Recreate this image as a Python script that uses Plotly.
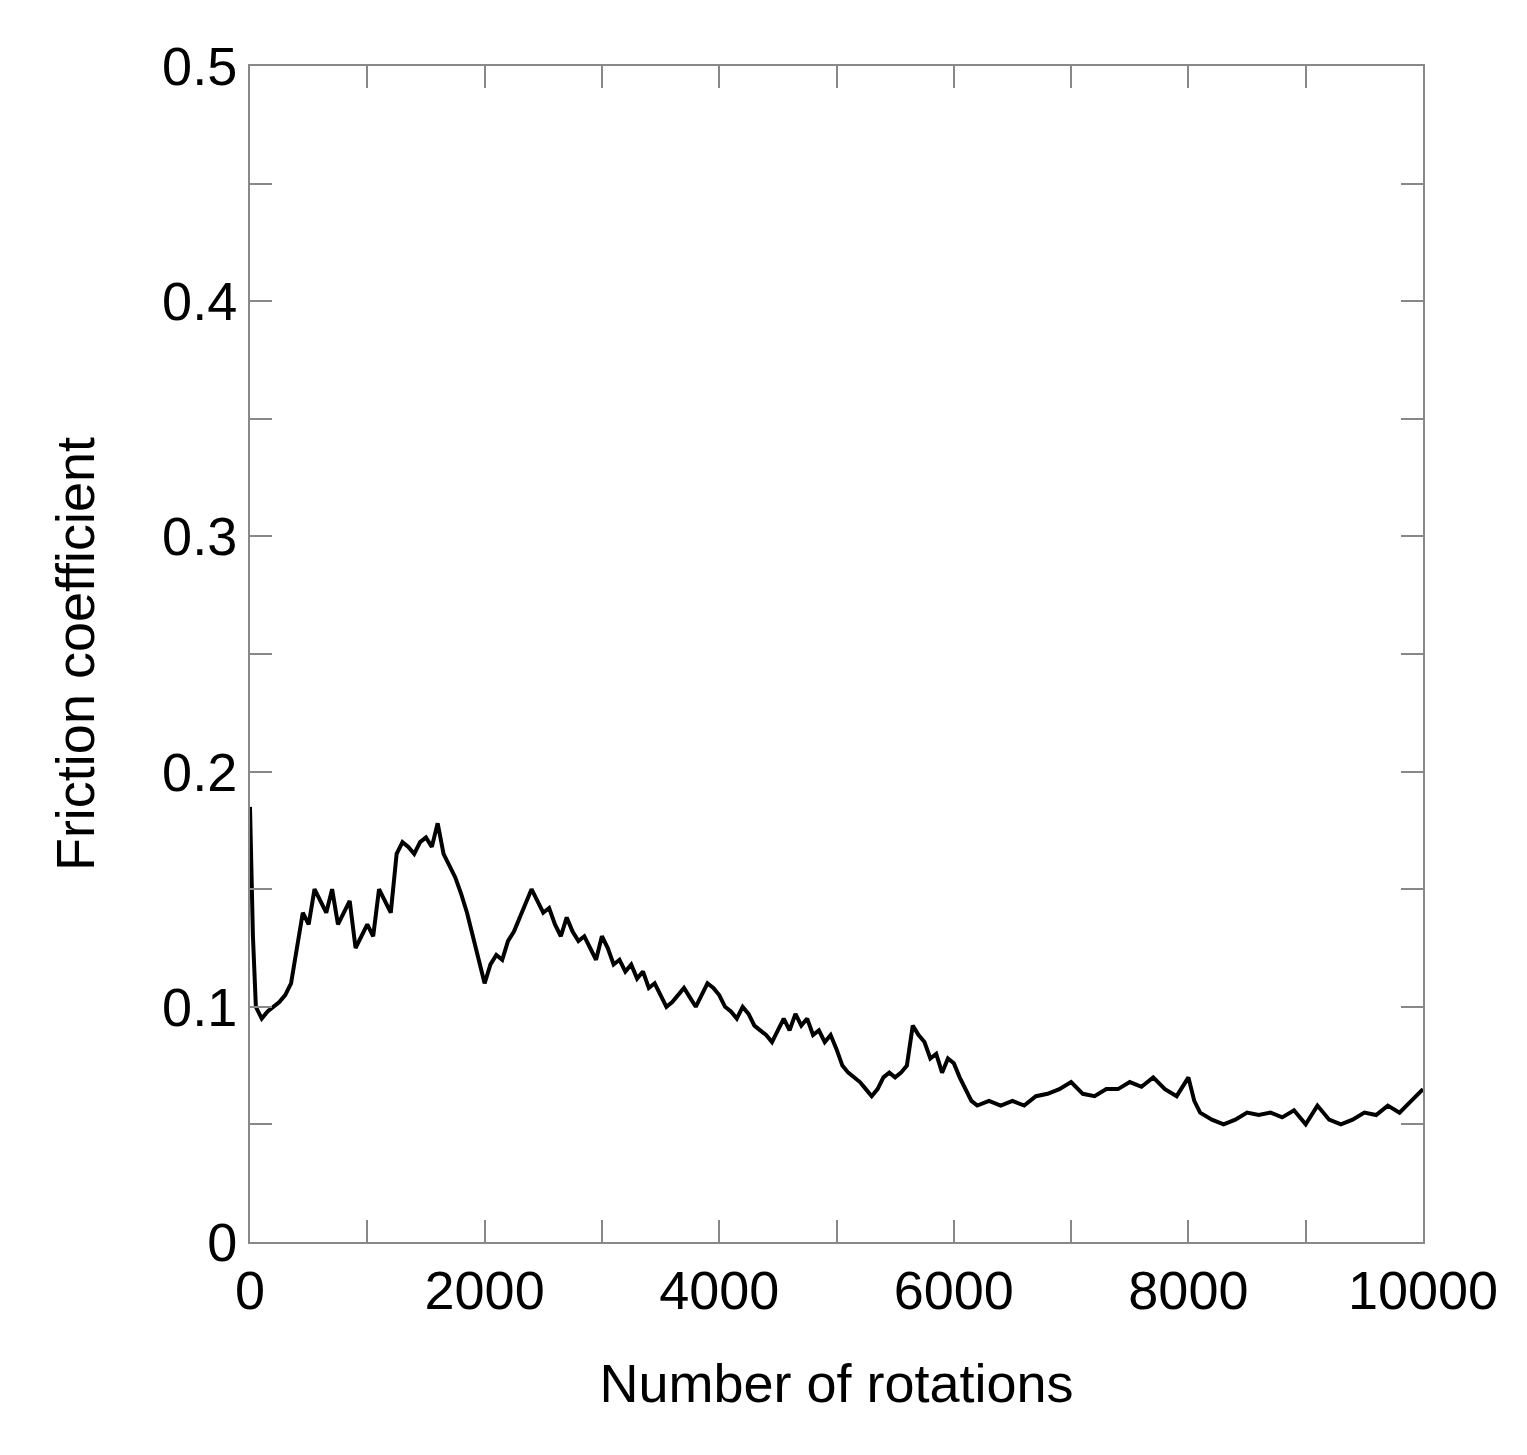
import plotly.graph_objects as go

# friction trace
rotations = [0, 25, 50, 100, 150, 200, 250, 300, 350, 400, 450, 500, 550, 600, 650, 700, 750, 800, 850, 900,
             950, 1000, 1050, 1100, 1150, 1200, 1250, 1300, 1350, 1400, 1450, 1500, 1550, 1600, 1650, 1700,
             1750, 1800, 1850, 1900, 1950, 2000, 2050, 2100, 2150, 2200, 2250, 2300, 2350, 2400, 2450, 2500,
             2550, 2600, 2650, 2700, 2750, 2800, 2850, 2900, 2950, 3000, 3050, 3100, 3150, 3200, 3250, 3300,
             3350, 3400, 3450, 3500, 3550, 3600, 3650, 3700, 3750, 3800, 3850, 3900, 3950, 4000, 4050, 4100,
             4150, 4200, 4250, 4300, 4350, 4400, 4450, 4500, 4550, 4600, 4650, 4700, 4750, 4800, 4850, 4900,
             4950, 5000, 5050, 5100, 5150, 5200, 5250, 5300, 5350, 5400, 5450, 5500, 5550, 5600, 5650, 5700,
             5750, 5800, 5850, 5900, 5950, 6000, 6050, 6100, 6150, 6200, 6300, 6400, 6500, 6600, 6700, 6800,
             6900, 7000, 7100, 7200, 7300, 7400, 7500, 7600, 7700, 7800, 7900, 8000, 8050, 8100, 8200, 8300,
             8400, 8500, 8600, 8700, 8800, 8900, 9000, 9100, 9200, 9300, 9400, 9500, 9600, 9700, 9800, 9900,
             10000]
friction = [0.185, 0.13, 0.10, 0.095, 0.098, 0.10, 0.102, 0.105, 0.11, 0.125, 0.14, 0.135, 0.15, 0.145, 0.14,
            0.15, 0.135, 0.14, 0.145, 0.125, 0.13, 0.135, 0.13, 0.15, 0.145, 0.14, 0.165, 0.17, 0.168, 0.165,
            0.17, 0.172, 0.168, 0.178, 0.165, 0.16, 0.155, 0.148, 0.14, 0.13, 0.12, 0.11, 0.118, 0.122, 0.12,
            0.128, 0.132, 0.138, 0.145, 0.15, 0.145, 0.14, 0.142, 0.135, 0.13, 0.138, 0.132, 0.128, 0.13, 0.125,
            0.12, 0.13, 0.125, 0.118, 0.12, 0.115, 0.118, 0.112, 0.115, 0.108, 0.11, 0.105, 0.10, 0.102, 0.105,
            0.108, 0.104, 0.10, 0.105, 0.11, 0.108, 0.105, 0.10, 0.098, 0.095, 0.10, 0.097, 0.092, 0.09, 0.088,
            0.085, 0.09, 0.095, 0.09, 0.097, 0.092, 0.095, 0.088, 0.09, 0.085, 0.088, 0.082, 0.075, 0.072, 0.07,
            0.068, 0.065, 0.062, 0.065, 0.07, 0.072, 0.07, 0.072, 0.075, 0.092, 0.088, 0.085, 0.078, 0.08, 0.072,
            0.078, 0.076, 0.07, 0.065, 0.06, 0.058, 0.06, 0.058, 0.06, 0.058, 0.062, 0.063, 0.065, 0.068, 0.063,
            0.062, 0.065, 0.065, 0.068, 0.066, 0.07, 0.065, 0.062, 0.07, 0.06, 0.055, 0.052, 0.05, 0.052, 0.055,
            0.054, 0.055, 0.053, 0.056, 0.05, 0.058, 0.052, 0.05, 0.052, 0.055, 0.054, 0.058, 0.055, 0.06, 0.065]

fig = go.Figure(go.Scatter(x=rotations, y=friction, mode="lines",
                           line=dict(color="black", width=4)))

axis_style = dict(
    showline=True, linecolor="#888", linewidth=2, mirror="ticks",
    ticks="inside", ticklen=22, tickwidth=2, tickcolor="#888",
    showgrid=False, zeroline=False,
    tickfont=dict(size=54, color="black"),
    minor=dict(ticks="inside", ticklen=22, tickwidth=2, tickcolor="#888"),
)

fig.update_xaxes(range=[0, 10000], dtick=2000, minor_dtick=1000, tickformat="d",
                 title=dict(text="Number of rotations", font=dict(size=54, color="black"), standoff=45),
                 **axis_style)
fig.update_yaxes(range=[0, 0.5], dtick=0.1, minor_dtick=0.05, tickformat=".1~f",
                 title=dict(text="Friction coefficient", font=dict(size=54, color="black"), standoff=50),
                 **axis_style)

fig.update_layout(
    width=1527, height=1455,
    margin=dict(l=242, r=112, t=58, b=221, pad=0),
    paper_bgcolor="white", plot_bgcolor="white",
    font=dict(family="Liberation Sans, Arial, sans-serif"),
    showlegend=False,
)

fig.write_html("out.html")
